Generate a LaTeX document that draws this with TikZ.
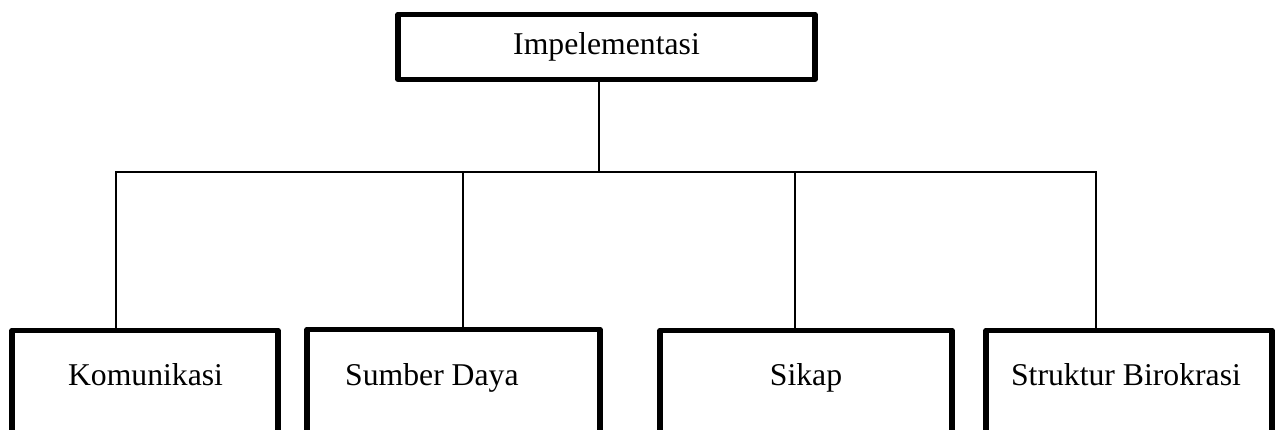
\documentclass[tikz,border=0pt]{standalone}
\usepackage{fontspec}
\setmainfont{Liberation Serif}
\begin{document}
\begin{tikzpicture}[x=1pt,y=-1pt,
  box/.style={draw,line width=5.5pt,line join=round,inner sep=0pt,minimum width=#1},
  lbl/.style={anchor=base,inner sep=0pt,font=\fontsize{31.7}{38}\selectfont},
  conn/.style={line width=1.5pt}]
\useasboundingbox (0,0) rectangle (1278,430);
\clip (0,0) rectangle (1278,430);
\fill[white] (0,0) rectangle (1278,430);
% top box
\node[box=417pt,minimum height=65pt] (top) at (606.5,47) {};
\node[lbl] (toptxt) at (606.5,54.3) {Impelementasi};
% bottom boxes
\node[box=266pt,minimum height=139.5pt] (kom) at (145,400.25) {};
\node[box=293pt,minimum height=140.5pt] (sd) at (453.5,399.75) {};
\node[box=292pt,minimum height=139.5pt] (sik) at (806,400.25) {};
\node[box=286pt,minimum height=139.5pt] (sb) at (1129,400.25) {};
\node[lbl] (komtxt) at (145.5,386) {Komunikasi};
\node[lbl,anchor=base west] (sdtxt) at (345,386) {Sumber Daya};
\node[lbl] (siktxt) at (806,386) {Sikap};
\node[lbl] (sbtxt) at (1126,386) {Struktur Birokrasi};
% connectors
\coordinate (j) at (599,172);
\coordinate (hl) at (116,172);
\coordinate (hr) at (1096,172);
\coordinate (jsd) at (463,172);
\coordinate (jsik) at (795,172);
\draw[conn] (top.south -| j) -- (j);
\draw[conn] (kom.north -| hl) -- (hl) -- (hr) -- (sb.north -| hr);
\draw[conn] (sd.north -| jsd) -- (jsd);
\draw[conn] (sik.north -| jsik) -- (jsik);
\end{tikzpicture}
\end{document}
